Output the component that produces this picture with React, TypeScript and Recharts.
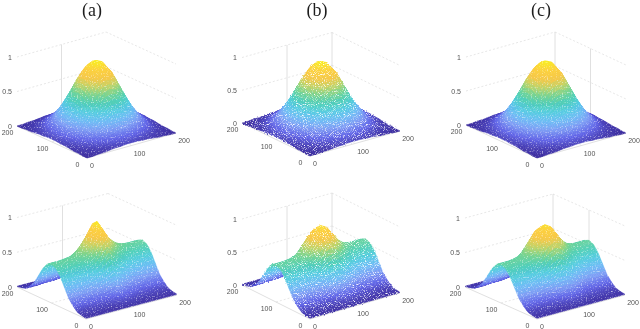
import React from "react";
import { ReferenceLine, Scatter, ScatterChart, XAxis, YAxis } from "recharts";

// heights, in percent of the z axis, one row per step of 12.5 along the left axis
const gaussRows = [
  [0, 0, 1, 1, 2, 3, 3, 4, 4, 4, 3, 3, 2, 1, 1, 0, 0],
  [0, 1, 2, 3, 4, 6, 8, 9, 9, 9, 8, 6, 4, 3, 2, 1, 0],
  [1, 2, 3, 6, 9, 12, 15, 17, 18, 17, 15, 12, 9, 6, 3, 2, 1],
  [1, 3, 6, 10, 15, 21, 26, 30, 31, 30, 26, 21, 15, 10, 6, 3, 1],
  [2, 4, 9, 15, 23, 32, 40, 46, 48, 46, 40, 32, 23, 15, 9, 4, 2],
  [3, 6, 12, 21, 32, 45, 56, 64, 67, 64, 56, 45, 32, 21, 12, 6, 3],
  [3, 8, 15, 26, 40, 56, 71, 81, 84, 81, 71, 56, 40, 26, 15, 8, 3],
  [4, 9, 17, 30, 46, 64, 81, 92, 96, 92, 81, 64, 46, 30, 17, 9, 4],
  [4, 9, 18, 31, 48, 67, 84, 96, 100, 96, 84, 67, 48, 31, 18, 9, 4],
  [4, 9, 17, 30, 46, 64, 81, 92, 96, 92, 81, 64, 46, 30, 17, 9, 4],
  [3, 8, 15, 26, 40, 56, 71, 81, 84, 81, 71, 56, 40, 26, 15, 8, 3],
  [3, 6, 12, 21, 32, 45, 56, 64, 67, 64, 56, 45, 32, 21, 12, 6, 3],
  [2, 4, 9, 15, 23, 32, 40, 46, 48, 46, 40, 32, 23, 15, 9, 4, 2],
  [1, 3, 6, 10, 15, 21, 26, 30, 31, 30, 26, 21, 15, 10, 6, 3, 1],
  [1, 2, 3, 6, 9, 12, 15, 17, 18, 17, 15, 12, 9, 6, 3, 2, 1],
  [0, 1, 2, 3, 4, 6, 8, 9, 9, 9, 8, 6, 4, 3, 2, 1, 0],
  [0, 0, 1, 1, 2, 3, 3, 4, 4, 4, 3, 3, 2, 1, 1, 0, 0],
];

const pointedRows = [
  [1, 1, 1, 1, 1, 1, 1, 1, 1, 1, 1, 1, 1, 1, 1, 1, 1],
  [2, 2, 2, 2, 2, 2, 2, 3, 3, 3, 2, 2, 2, 2, 2, 2, 2],
  [4, 4, 4, 5, 5, 5, 6, 7, 8, 7, 6, 5, 5, 5, 4, 4, 4],
  [10, 10, 10, 10, 10, 11, 12, 14, 17, 14, 12, 11, 10, 10, 10, 10, 10],
  [18, 18, 18, 19, 19, 21, 24, 28, 33, 28, 24, 21, 19, 19, 18, 18, 18],
  [31, 31, 31, 31, 32, 35, 40, 47, 55, 47, 40, 35, 32, 31, 31, 31, 31],
  [44, 44, 44, 44, 46, 50, 56, 66, 78, 66, 56, 50, 46, 44, 44, 44, 44],
  [53, 53, 53, 54, 55, 60, 68, 80, 94, 80, 68, 60, 55, 54, 53, 53, 53],
  [56, 56, 56, 57, 59, 64, 72, 85, 100, 85, 72, 64, 59, 57, 56, 56, 56],
  [53, 53, 53, 54, 55, 60, 68, 80, 94, 80, 68, 60, 55, 54, 53, 53, 53],
  [44, 44, 44, 44, 46, 50, 56, 66, 78, 66, 56, 50, 46, 44, 44, 44, 44],
  [31, 31, 31, 31, 32, 35, 40, 47, 55, 47, 40, 35, 32, 31, 31, 31, 31],
  [18, 18, 18, 19, 19, 21, 24, 28, 33, 28, 24, 21, 19, 19, 18, 18, 18],
  [10, 10, 10, 10, 10, 11, 12, 14, 17, 14, 12, 11, 10, 10, 10, 10, 10],
  [4, 4, 4, 5, 5, 5, 6, 7, 8, 7, 6, 5, 5, 5, 4, 4, 4],
  [2, 2, 2, 2, 2, 2, 2, 3, 3, 3, 2, 2, 2, 2, 2, 2, 2],
  [1, 1, 1, 1, 1, 1, 1, 1, 1, 1, 1, 1, 1, 1, 1, 1, 1],
];

const roundedRows = [
  [1, 1, 1, 1, 1, 1, 1, 1, 1, 1, 1, 1, 1, 1, 1, 1, 1],
  [2, 2, 2, 2, 2, 2, 2, 3, 3, 3, 2, 2, 2, 2, 2, 2, 2],
  [4, 4, 4, 5, 5, 5, 6, 7, 8, 7, 6, 5, 5, 5, 4, 4, 4],
  [10, 10, 10, 10, 10, 11, 13, 16, 17, 16, 13, 11, 10, 10, 10, 10, 10],
  [18, 18, 18, 19, 20, 22, 26, 31, 33, 31, 26, 22, 20, 19, 18, 18, 18],
  [31, 31, 31, 31, 33, 37, 43, 51, 55, 51, 43, 37, 33, 31, 31, 31, 31],
  [44, 44, 44, 44, 47, 52, 62, 72, 76, 72, 62, 52, 47, 44, 44, 44, 44],
  [53, 53, 53, 54, 56, 63, 74, 86, 90, 86, 74, 63, 56, 54, 53, 53, 53],
  [56, 56, 56, 57, 60, 67, 79, 91, 96, 91, 79, 67, 60, 57, 56, 56, 56],
  [53, 53, 53, 54, 56, 63, 74, 86, 90, 86, 74, 63, 56, 54, 53, 53, 53],
  [44, 44, 44, 44, 47, 52, 62, 72, 76, 72, 62, 52, 47, 44, 44, 44, 44],
  [31, 31, 31, 31, 33, 37, 43, 51, 55, 51, 43, 37, 33, 31, 31, 31, 31],
  [18, 18, 18, 19, 20, 22, 26, 31, 33, 31, 26, 22, 20, 19, 18, 18, 18],
  [10, 10, 10, 10, 10, 11, 13, 16, 17, 16, 13, 11, 10, 10, 10, 10, 10],
  [4, 4, 4, 5, 5, 5, 6, 7, 8, 7, 6, 5, 5, 5, 4, 4, 4],
  [2, 2, 2, 2, 2, 2, 2, 3, 3, 3, 2, 2, 2, 2, 2, 2, 2],
  [1, 1, 1, 1, 1, 1, 1, 1, 1, 1, 1, 1, 1, 1, 1, 1, 1],
];

const zTicks = ["0", "0.5", "1"];
const floorTicks = ["0", "100", "200"];
const panelTitles = ["(a)", "(b)", "(c)"];

const colorStops = ["#3a2b9e", "#5f62e6", "#7c9cf4", "#6cbcf4", "#54cce0", "#50d0b8", "#78d490", "#c4d468", "#f8c848", "#fcd040", "#f8f020"];

type Panel = {
  rows: number[][];
  front: number[];
  left: number[];
  right: number[];
  zUnit: number;
  posts: number[][]; // [a, b] of the upright grid lines worth drawing
  filter: string;
};

const panels: Panel[] = [
  { rows: gaussRows, front: [87, 158], left: [17, 126], right: [176, 133], zUnit: 69, posts: [[200, 100]], filter: "mesh" },
  { rows: gaussRows, front: [310, 156], left: [242, 123], right: [400, 131], zUnit: 65.5, posts: [[200, 100], [200, 200]], filter: "speckle" },
  { rows: gaussRows, front: [537, 158], left: [466, 125], right: [626, 133], zUnit: 68, posts: [[200, 200], [100, 200]], filter: "mesh" },
  { rows: pointedRows, front: [86, 319], left: [17, 287], right: [177, 295], zUnit: 69.5, posts: [[200, 100]], filter: "mesh" },
  { rows: roundedRows, front: [310, 319], left: [242, 285], right: [400, 293], zUnit: 66, posts: [[200, 100], [200, 200]], filter: "speckle" },
  { rows: roundedRows, front: [537, 319], left: [465, 287], right: [625, 295], zUnit: 69, posts: [[200, 200], [100, 200]], filter: "mesh" },
];

function project(p: Panel, a: number, b: number, z: number) {
  return {
    x: p.front[0] + ((p.left[0] - p.front[0]) * a + (p.right[0] - p.front[0]) * b) / 200,
    y: p.front[1] + ((p.left[1] - p.front[1]) * a + (p.right[1] - p.front[1]) * b) / 200 - z * p.zUnit,
  };
}

function mixColor(h: number) {
  const t = Math.min(Math.max(h, 0), 1) * (colorStops.length - 1);
  const i = Math.min(Math.floor(t), colorStops.length - 2);
  const f = t - i;
  const ch = (s: string, k: number) => parseInt(s.slice(1 + k * 2, 3 + k * 2), 16);
  const c = [0, 1, 2].map((k) => Math.round(ch(colorStops[i], k) * (1 - f) + ch(colorStops[i + 1], k) * f));
  return `rgb(${c[0]},${c[1]},${c[2]})`;
}

function surfacePoints(p: Panel) {
  return p.rows.flatMap((row, i) => row.map((h, j) => project(p, i * 12.5, j * 12.5, h / 100)));
}

const SHADE_STEPS = 3;

// the scatter's line prop hands over the scaled points, the mesh is painted from the back corner forward.
// each cell is split only to blend its colour, no extra data goes through the chart
function surfaceLine(p: Panel) {
  return function SurfaceMesh(props: any) {
    const pts = props.points;
    const n = p.rows.length;
    const cells = [];
    for (let i = n - 2; i >= 0; i--) {
      for (let j = n - 2; j >= 0; j--) {
        const q00 = pts[i * n + j];
        const q10 = pts[(i + 1) * n + j];
        const q01 = pts[i * n + j + 1];
        const q11 = pts[(i + 1) * n + j + 1];
        const blend = (u: number, v: number, k: "x" | "y") =>
          q00[k] * (1 - u) * (1 - v) + q10[k] * u * (1 - v) + q01[k] * (1 - u) * v + q11[k] * u * v;
        const hAt = (u: number, v: number) =>
          p.rows[i][j] * (1 - u) * (1 - v) + p.rows[i + 1][j] * u * (1 - v) + p.rows[i][j + 1] * (1 - u) * v + p.rows[i + 1][j + 1] * u * v;
        for (let su = SHADE_STEPS - 1; su >= 0; su--) {
          for (let sv = SHADE_STEPS - 1; sv >= 0; sv--) {
            const u0 = su / SHADE_STEPS;
            const u1 = (su + 1) / SHADE_STEPS;
            const v0 = sv / SHADE_STEPS;
            const v1 = (sv + 1) / SHADE_STEPS;
            const corners = [[u0, v0], [u1, v0], [u1, v1], [u0, v1]];
            const c = mixColor(hAt((u0 + u1) / 2, (v0 + v1) / 2) / 100);
            cells.push(
              <polygon
                key={`${i}-${j}-${su}-${sv}`}
                points={corners.map(([u, v]) => `${blend(u, v, "x")},${blend(u, v, "y")}`).join(" ")}
                fill={c}
                stroke={c}
                strokeWidth={0.5}
                strokeLinejoin="round"
              />
            );
          }
        }
      }
    }
    return <g filter={`url(#${p.filter})`}>{cells}</g>;
  };
}

function gridSegments(p: Panel) {
  const lines: { from: number[]; to: number[]; solid: boolean }[] = [];
  for (const z of [0.5, 1]) {
    lines.push({ from: [200, 0, z], to: [200, 200, z], solid: false });
    lines.push({ from: [200, 200, z], to: [0, 200, z], solid: false });
  }
  lines.push({ from: [100, 0, 0], to: [100, 200, 0], solid: false });
  lines.push({ from: [0, 100, 0], to: [200, 100, 0], solid: false });
  lines.push({ from: [200, 0, 0], to: [0, 0, 0], solid: true });
  lines.push({ from: [0, 0, 0], to: [0, 200, 0], solid: true });
  for (const post of p.posts) {
    lines.push({ from: [post[0], post[1], 0], to: [post[0], post[1], 1], solid: true });
  }
  return lines;
}

function tickLabels(p: Panel) {
  const labels: { x: number; y: number; text: string; anchor: string }[] = [];
  zTicks.forEach((t) => {
    const v = project(p, 200, 0, Number(t));
    labels.push({ x: v.x - 5, y: v.y, text: t, anchor: "end" });
  });
  floorTicks.forEach((t) => {
    const v = Number(t);
    const onLeft = project(p, v, 0, 0);
    const onRight = project(p, 0, v, 0);
    labels.push({ x: onLeft.x - 9.5, y: onLeft.y + 6.5, text: t, anchor: "middle" });
    labels.push({ x: onRight.x + (v === 0 ? 5 : 8), y: onRight.y + 7.5, text: t, anchor: "middle" });
  });
  return labels;
}

const TickText = (props: any) => (
  <text x={props.cx} y={props.cy} textAnchor={props.payload.anchor} dominantBaseline="central" fontFamily="Liberation Sans" fontSize={7} fill="#333" opacity={0.85}>
    {props.payload.text}
  </text>
);

const TitleText = (props: any) => (
  <text x={props.cx} y={props.cy} textAnchor="middle" dominantBaseline="central" fontFamily="Liberation Serif" fontSize={18} fill="#111" opacity={0.95}>
    {props.payload.text}
  </text>
);

const titleData = panelTitles.map((text, i) => ({ x: [92, 317, 541][i], y: 10, text }));

export default function App() {
  return (
    <div style={{ position: "absolute", left: 0, top: 0, width: 640, height: 329, background: "#fff" }}>
      <ScatterChart width={640} height={329} margin={{ top: 0, right: 0, bottom: 0, left: 0 }}>
        <defs>
          <filter id="mesh" x="-5%" y="-5%" width="110%" height="110%" colorInterpolationFilters="sRGB">
            <feTurbulence type="fractalNoise" baseFrequency="0.8" numOctaves={1} seed={4} result="n" />
            <feColorMatrix in="n" type="matrix" values="0 0 0 0 0  0 0 0 0 0  0 0 0 0 0  2.5 0 0 0 -0.1" result="m" />
            <feComposite in="SourceGraphic" in2="m" operator="in" />
          </filter>
          <filter id="speckle" x="-5%" y="-5%" width="110%" height="110%" colorInterpolationFilters="sRGB">
            <feTurbulence type="fractalNoise" baseFrequency="1.1" numOctaves={1} seed={7} result="n" />
            <feDisplacementMap in="SourceGraphic" in2="n" scale={3} xChannelSelector="R" yChannelSelector="G" result="d" />
            <feColorMatrix in="n" type="matrix" values="0 0 0 0 0  0 0 0 0 0  0 0 0 0 0  4 0 0 0 -0.9" result="m" />
            <feComposite in="d" in2="m" operator="in" />
          </filter>
        </defs>
        <XAxis type="number" dataKey="x" domain={[0, 640]} hide />
        <YAxis type="number" dataKey="y" domain={[0, 329]} reversed hide />
        {panels.flatMap((p, pi) =>
          gridSegments(p).map((s, si) => {
            const a = project(p, s.from[0], s.from[1], s.from[2]);
            const b = project(p, s.to[0], s.to[1], s.to[2]);
            return (
              <ReferenceLine
                key={`g${pi}-${si}`}
                segment={[a, b]}
                stroke={s.solid ? "#d8d8d8" : "#dcdcdc"}
                strokeWidth={s.solid ? 0.8 : 0.7}
                strokeDasharray={s.solid ? undefined : "2 2"}
              />
            );
          })
        )}
        {panels.map((p, pi) => (
          <Scatter key={`s${pi}`} data={surfacePoints(p)} line={surfaceLine(p)} shape={() => <g />} isAnimationActive={false} />
        ))}
        {panels.map((p, pi) => (
          <Scatter key={`t${pi}`} data={tickLabels(p)} shape={TickText} isAnimationActive={false} />
        ))}
        <Scatter data={titleData} shape={TitleText} isAnimationActive={false} />
      </ScatterChart>
    </div>
  );
}
